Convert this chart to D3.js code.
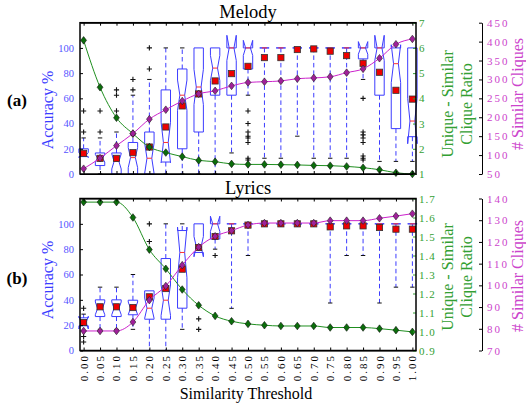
<!DOCTYPE html>
<html>
<head>
<meta charset="utf-8">
<script src="https://cdn.jsdelivr.net/npm/d3@7"></script>
<style>
  body { margin: 0; background: #fff; }
  text { font-family: "Liberation Serif", "Times New Roman", serif; }
</style>
</head>
<body>
<div id="chart"></div>
<script>
// Similarity thresholds (x categories)
var thresholds = [0.00, 0.05, 0.10, 0.15, 0.20, 0.25, 0.30, 0.35, 0.40, 0.45, 0.50,
                  0.55, 0.60, 0.65, 0.70, 0.75, 0.80, 0.85, 0.90, 0.95, 1.00];
var thresholdLabels = ["0.00", "0.05", "0.10", "0.15", "0.20", "0.25", "0.30", "0.35", "0.40", "0.45", "0.50",
                       "0.55", "0.60", "0.65", "0.70", "0.75", "0.80", "0.85", "0.90", "0.95", "1.00"];

// (a) Melody - accuracy box plots
var melodyQ1     = [13.8, 6.7, 0, 0, 0, 9.5, 20, 33.3, 62.5, 62.5, 83.3, 100, 100, 100, 100, 100, 100, 91.3, 62.5, 36, 29.6];
var melodyMedian = [15, 12.5, 10, 13, 12.5, 25, 62.5, 69, 84, 100, 100, 100, 100, 100, 100, 100, 100, 100, 100, 87.5, 42];
var melodyQ3     = [20, 16.7, 16.7, 25, 33.3, 66.7, 83.3, 100, 100, 100, 100, 100, 100, 100, 100, 100, 100, 100, 100, 100, 100];
var melodyLow    = [13.8, 0, 0, 0, 0, 0, 0, 0, 0, 16.7, 62.5, 12.5, 12.5, 30, 12.5, 12.5, 12.5, 75, 10, 10, 10];
var melodyHigh   = [28.6, 28.6, 33.3, 62.5, 75, 100, 100, 100, 100, 100, 100, 100, 100, 100, 100, 100, 100, 100, 100, 100, 100];
var melodyNotch  = [2, 3, 6, 8, 12, 16, 12, 14, 10, 10, 6, 0, 0, 0, 0, 0, 0, 5, 10, 15, 18];
var melodyMean   = [16.4, 12.4, 12.4, 16.9, 21.4, 37.3, 54, 63.5, 73.8, 79.6, 85.4, 92.3, 92.3, 98.7, 99.2, 97.4, 93.9, 87.8, 80.7, 66.4, 59.4];
var melodyOutliers = [[33.3, 50], [33.3, 50], [50, 62.5, 66.7], [66.7, 75], [83.3, 100], [], [], [], [], [8.3],
                      [50, 40, 33.3, 30, 28.6, 25, 12.5, 11.1], [], [], [], [], [], [],
                      [60, 33.3, 31, 28.6, 25, 14.3, 12.5, 11.1], [], [], []];
// (a) Melody - ratio and clique counts
var melodyRatio   = [6.30, 4.44, 3.23, 2.60, 2.07, 1.85, 1.69, 1.54, 1.49, 1.40, 1.38, 1.38, 1.37, 1.36, 1.34, 1.33, 1.30, 1.25, 1.17, 1.05, 1.00];
var melodyCliques = [64, 92, 125, 157, 195, 220, 243, 262, 270, 283, 292, 294, 296, 302, 304, 307, 318, 328, 356, 393, 407];

// (b) Lyrics - accuracy box plots
var lyricsQ1     = [19.5, 26.8, 26.8, 28.2, 24.7, 24.7, 33.4, 77.4, 88, 100, 100, 100, 100, 100, 100, 100, 100, 100, 100, 100, 100];
var lyricsMedian = [22, 33.3, 33.3, 33.3, 33.4, 39.7, 77.4, 82, 100, 100, 100, 100, 100, 100, 100, 100, 100, 100, 100, 100, 100];
var lyricsQ3     = [25.8, 40, 40, 39.7, 47.1, 72.6, 94.7, 100, 100, 100, 100, 100, 100, 100, 100, 100, 100, 100, 100, 100, 100];
var lyricsLow    = [19.5, 16.7, 16.7, 16.7, 0, 0, 16.7, 77.4, 80, 33.3, 75, 100, 100, 100, 100, 37.5, 75, 75, 37.5, 50, 50];
var lyricsHigh   = [28.7, 50, 50, 60, 47.1, 100, 100, 100, 100, 100, 100, 100, 100, 100, 100, 100, 100, 100, 100, 100, 100];
var lyricsNotch  = [5, 5, 5, 5, 8, 12, 20, 8, 6, 0, 0, 0, 0, 0, 0, 0, 0, 0, 0, 0, 0];
var lyricsMean   = [22.1, 34.5, 34.5, 33.9, 42.4, 48.9, 64.2, 81.3, 90, 94.5, 99, 100, 100, 100, 100, 97.6, 98.4, 98.4, 97.1, 95.8, 95.8];
var lyricsOutliers = [[33.3, 15.5, 11.1, 6.7], [], [], [], [100, 86], [], [], [25, 16.7], [75], [], [],
                      [], [], [], [], [], [], [], [], [], []];
// (b) Lyrics - ratio and clique counts
var lyricsRatio   = [1.681, 1.681, 1.681, 1.600, 1.431, 1.330, 1.221, 1.138, 1.082, 1.054, 1.040,
                     1.033, 1.029, 1.029, 1.029, 1.021, 1.021, 1.021, 1.015, 1.007, 0.998];
var lyricsCliques = [79, 79, 79, 83.1, 93.2, 99.7, 109.3, 117.6, 122.6, 125.2, 127.8,
                     128.7, 128.7, 128.7, 128.7, 129.8, 129.8, 129.8, 130.9, 131.9, 133];

// Axis tick values
var accuracyTicks = [0, 20, 40, 60, 80, 100];
var melodyRatioTicks = [1, 2, 3, 4, 5, 6, 7];
var melodyCliqueTicks = [50, 100, 150, 200, 250, 300, 350, 400, 450];
var lyricsRatioTicks = [0.9, 1.0, 1.1, 1.2, 1.3, 1.4, 1.5, 1.6, 1.7];
var lyricsCliqueTicks = [70, 80, 90, 100, 110, 120, 130, 140];

var blue = "#3c3cff", green = "#1f8f1f", magenta = "#cc22cc";
var greenText = "#33a033", magentaText = "#cc44cc", blueText = "#5555ff";

var svg = d3.select("#chart").append("svg")
  .attr("width", 526)
  .attr("height", 407);

var left = 80, right = 416;
var x = d3.scaleLinear().domain([-0.011, 1.011]).range([left, right]);

// diamond path centred at 0,0
function diamond(w, h) {
  return "M0," + (-h) + "L" + w + ",0L0," + h + "L" + (-w) + ",0Z";
}

function drawPanel(p) {
  var y = d3.scaleLinear().domain([0, 120]).range([p.bottom, p.top]);
  var yRatio = d3.scaleLinear().domain(p.ratioDomain).range([p.bottom, p.top]);
  var yCliques = d3.scaleLinear().domain(p.cliqueDomain).range([p.bottom, p.top]);

  // build rows for the boxes
  var rows = thresholds.map(function(t, i) {
    return { t: t, q1: p.q1[i], med: p.med[i], q3: p.q3[i], lo: p.lo[i], hi: p.hi[i],
             notch: p.notch[i], mean: p.mean[i], out: p.out[i], ratio: p.ratio[i], cliques: p.cliques[i] };
  });

  var g = svg.append("g");
  var w = 4.7, wi = 2.4, cap = 2.2;

  // whiskers (dashed blue)
  rows.forEach(function(d) {
    var cx = x(d.t);
    if (d.lo < d.q1) {
      g.append("line").attr("x1", cx).attr("x2", cx).attr("y1", y(d.q1)).attr("y2", y(d.lo))
        .attr("stroke", blue).attr("stroke-width", 1).attr("stroke-dasharray", "4.5,3");
      g.append("line").attr("x1", cx - cap).attr("x2", cx + cap).attr("y1", y(d.lo)).attr("y2", y(d.lo))
        .attr("stroke", "#111").attr("stroke-width", 1);
    }
    if (d.hi > d.q3) {
      g.append("line").attr("x1", cx).attr("x2", cx).attr("y1", y(d.q3)).attr("y2", y(d.hi))
        .attr("stroke", blue).attr("stroke-width", 1).attr("stroke-dasharray", "4.5,3");
      g.append("line").attr("x1", cx - cap).attr("x2", cx + cap).attr("y1", y(d.hi)).attr("y2", y(d.hi))
        .attr("stroke", "#111").attr("stroke-width", 1);
    }
  });

  // notched boxes
  g.selectAll(".box").data(rows).enter().append("path")
    .attr("class", "box")
    .attr("fill", "none")
    .attr("stroke", blue)
    .attr("stroke-width", 1)
    .attr("d", function(d) {
      var cx = x(d.t);
      if (d.notch === 0) {
        return "M" + (cx - w) + "," + y(d.q1) + "H" + (cx + w) + "V" + y(d.q3) + "H" + (cx - w) + "Z";
      }
      var a = y(d.med - d.notch), m = y(d.med), b = y(d.med + d.notch);
      return "M" + (cx - w) + "," + y(d.q1) + "L" + (cx - w) + "," + a + "L" + (cx - wi) + "," + m +
        "L" + (cx - w) + "," + b + "L" + (cx - w) + "," + y(d.q3) + "L" + (cx + w) + "," + y(d.q3) +
        "L" + (cx + w) + "," + b + "L" + (cx + wi) + "," + m + "L" + (cx + w) + "," + a +
        "L" + (cx + w) + "," + y(d.q1) + "Z";
    });

  // median lines
  g.selectAll(".median").data(rows).enter().append("line")
    .attr("class", "median")
    .attr("x1", function(d) { return x(d.t) - (d.notch === 0 ? 2.5 : wi); })
    .attr("x2", function(d) { return x(d.t) + (d.notch === 0 ? 2.5 : wi); })
    .attr("y1", function(d) { return y(d.med); })
    .attr("y2", function(d) { return y(d.med); })
    .attr("stroke", "#ff3030")
    .attr("stroke-width", 1);

  // outliers
  rows.forEach(function(d) {
    d.out.forEach(function(v) {
      g.append("path")
        .attr("d", "M" + (x(d.t) - 2.6) + "," + y(v) + "h5.2M" + x(d.t) + "," + (y(v) - 2.6) + "v5.2")
        .attr("stroke", "#111").attr("stroke-width", 1.1);
    });
  });

  // mean squares
  g.selectAll(".mean").data(rows).enter().append("rect")
    .attr("class", "mean")
    .attr("x", function(d) { return x(d.t) - 3.1; })
    .attr("y", function(d) { return y(d.mean) - 3.1; })
    .attr("width", 6.2)
    .attr("height", 6.2)
    .attr("fill", "#ee0000")
    .attr("stroke", "#333")
    .attr("stroke-width", 0.8);

  // ratio line (green)
  var ratioLine = d3.line().curve(d3.curveMonotoneX)
    .x(function(d) { return x(d.t); })
    .y(function(d) { return yRatio(d.ratio); });
  g.append("path").datum(rows).attr("d", ratioLine)
    .attr("fill", "none").attr("stroke", green).attr("stroke-width", 1);
  g.selectAll(".rpt").data(rows).enter().append("path")
    .attr("class", "rpt")
    .attr("transform", function(d) { return "translate(" + x(d.t) + "," + yRatio(d.ratio) + ")"; })
    .attr("d", diamond(2.9, 3.8))
    .attr("fill", "#0b6e0b").attr("stroke", "#111").attr("stroke-width", 0.6);

  // clique count line (magenta)
  var cliqueLine = d3.line().curve(d3.curveMonotoneX)
    .x(function(d) { return x(d.t); })
    .y(function(d) { return yCliques(d.cliques); });
  g.append("path").datum(rows).attr("d", cliqueLine)
    .attr("fill", "none").attr("stroke", magenta).attr("stroke-width", 1);
  g.selectAll(".cpt").data(rows).enter().append("path")
    .attr("class", "cpt")
    .attr("transform", function(d) { return "translate(" + x(d.t) + "," + yCliques(d.cliques) + ")"; })
    .attr("d", diamond(2.9, 3.8))
    .attr("fill", "#a0209a").attr("stroke", "#222").attr("stroke-width", 0.6);

  // axes
  var axLeft = svg.append("g").attr("transform", "translate(" + left + ",0)")
    .call(d3.axisLeft(y).tickValues(accuracyTicks).tickSizeInner(-3).tickSizeOuter(0).tickPadding(6));
  axLeft.selectAll("text").attr("fill", blueText).style("font-family", "Liberation Serif").style("font-size", "10.5px");

  svg.append("g").attr("transform", "translate(0," + p.top + ")")
    .call(d3.axisTop(x).tickValues(thresholds).tickSizeInner(-3).tickSizeOuter(0).tickFormat(""));
  svg.append("g").attr("transform", "translate(0," + p.bottom + ")")
    .call(d3.axisBottom(x).tickValues(thresholds).tickSizeInner(-3).tickSizeOuter(0).tickFormat(""));

  var axRatio = svg.append("g").attr("transform", "translate(" + right + ",0)")
    .call(d3.axisRight(yRatio).tickValues(p.ratioTicks).tickSizeInner(-3).tickSizeOuter(0).tickPadding(3)
      .tickFormat(p.ratioFormat));
  axRatio.selectAll("line").attr("stroke", greenText);
  axRatio.selectAll("text").attr("fill", greenText).style("font-family", "Liberation Serif")
    .style("font-size", "11px").style("letter-spacing", "1px");

  var axClique = svg.append("g").attr("transform", "translate(482,0)")
    .call(d3.axisRight(yCliques).tickValues(p.cliqueTicks).tickSizeInner(-3).tickSizeOuter(0).tickPadding(5));
  axClique.selectAll("text").attr("fill", magentaText).style("font-family", "Liberation Serif")
    .style("font-size", "11px").style("letter-spacing", "2px");

  [axLeft, axRatio].forEach(function(a) { a.select(".domain").remove(); });
  svg.selectAll(".domain").attr("stroke", "#000");

  // frame
  svg.append("rect")
    .attr("x", left).attr("y", p.top)
    .attr("width", right - left).attr("height", p.bottom - p.top)
    .attr("fill", "none").attr("stroke", "#000").attr("stroke-width", 1.5);

  // titles and axis labels
  svg.append("text").attr("x", 248).attr("y", p.top - 5).attr("text-anchor", "middle")
    .style("font-size", "18.5px").text(p.title);
  svg.append("text").attr("x", 17).attr("y", p.tagY).attr("text-anchor", "middle")
    .style("font-size", "17px").style("font-weight", "bold").text(p.tag);
  svg.append("text").attr("transform", "translate(53," + p.accY + ") rotate(-90)").attr("text-anchor", "middle")
    .attr("fill", "#3c3cff").style("font-size", "16px").text("Accuracy %");
  svg.append("text").attr("transform", "translate(453," + p.ratioY + ") rotate(-90)").attr("text-anchor", "middle")
    .attr("fill", greenText).style("font-size", "16px").text("Unique - Similar");
  svg.append("text").attr("transform", "translate(472," + p.ratioY + ") rotate(-90)").attr("text-anchor", "middle")
    .attr("fill", greenText).style("font-size", "16px").text("Clique Ratio");
  svg.append("text").attr("transform", "translate(523," + p.cliqueY + ") rotate(-90)").attr("text-anchor", "middle")
    .attr("fill", magentaText).style("font-size", "16px").text("# Similar Cliques");
}

drawPanel({
  title: "Melody", tag: "(a)", top: 22.7, bottom: 174, tagY: 106, accY: 110, ratioY: 104, cliqueY: 94,
  q1: melodyQ1, med: melodyMedian, q3: melodyQ3, lo: melodyLow, hi: melodyHigh, notch: melodyNotch,
  mean: melodyMean, out: melodyOutliers, ratio: melodyRatio, cliques: melodyCliques,
  ratioDomain: [1, 7], cliqueDomain: [50, 450], ratioTicks: melodyRatioTicks, cliqueTicks: melodyCliqueTicks,
  ratioFormat: d3.format("d")
});

drawPanel({
  title: "Lyrics", tag: "(b)", top: 198.5, bottom: 350.5, tagY: 284, accY: 280, ratioY: 277, cliqueY: 276,
  q1: lyricsQ1, med: lyricsMedian, q3: lyricsQ3, lo: lyricsLow, hi: lyricsHigh, notch: lyricsNotch,
  mean: lyricsMean, out: lyricsOutliers, ratio: lyricsRatio, cliques: lyricsCliques,
  ratioDomain: [0.9, 1.7], cliqueDomain: [70, 140], ratioTicks: lyricsRatioTicks, cliqueTicks: lyricsCliqueTicks,
  ratioFormat: d3.format(".1f")
});

// rotated x tick labels under the lower panel
svg.selectAll(".xlabel").data(thresholds).enter().append("text")
  .attr("class", "xlabel")
  .attr("transform", function(d) { return "translate(" + (x(d) + 4) + ",354) rotate(-90)"; })
  .attr("text-anchor", "end")
  .style("font-size", "11px")
  .style("letter-spacing", "2px")
  .text(function(d, i) { return thresholdLabels[i]; });

svg.append("text").attr("x", 246).attr("y", 399).attr("text-anchor", "middle")
  .style("font-size", "16px").text("Similarity Threshold");
</script>
</body>
</html>
